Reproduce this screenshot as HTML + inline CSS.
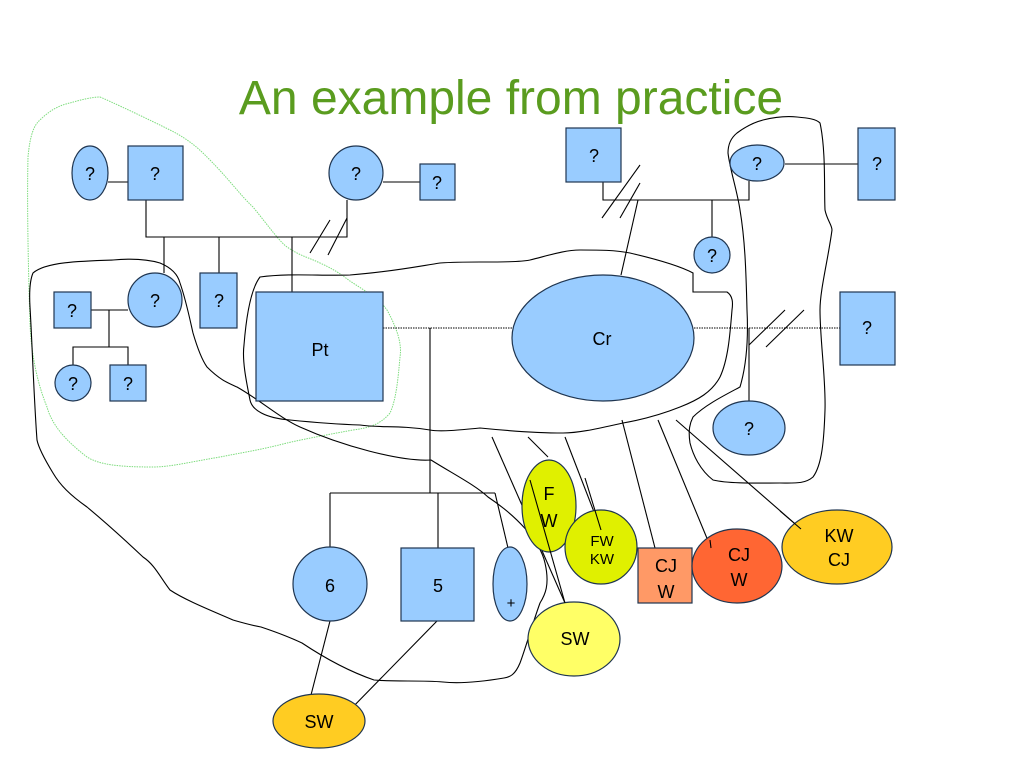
<!DOCTYPE html>
<html><head><meta charset="utf-8"><style>
html,body{margin:0;padding:0;background:#fff;}
svg{display:block;}
text{font-family:"Liberation Sans",sans-serif;}
</style></head><body>
<svg width="1023" height="767" viewBox="0 0 1023 767" xmlns="http://www.w3.org/2000/svg">
<text x="511" y="114" font-size="48" fill="#5a9c1f" text-anchor="middle">An example from practice</text>

<!-- green dotted curve -->
<path d="M100,97 C112,102 150,120 170,130 C190,140 200,150 207,157 C230,180 240,195 253,207 C270,228 280,242 287,247 C300,256 310,258 320,263 C340,272 345,278 353,283 C370,294 380,300 387,310 C398,330 402,345 400,357 C398,380 396,400 390,413 C380,425 368,428 353,430 C320,436 300,440 287,443 C260,450 240,453 220,457 C190,462 170,467 153,467 C120,467 100,465 87,457 C65,440 52,425 47,407 C36,380 31,350 30,323 C28,260 27,200 28,157 C30,135 34,125 40,120 C50,110 60,105 70,103 C80,100 92,97 100,97 Z" fill="none" stroke="#7ddc7d" stroke-width="1" stroke-dasharray="1.5,1"/>

<g fill="none" stroke="#000" stroke-width="1.1">
<!-- big left curve -->
<path d="M113,260 C135,258 150,260 160,263 C172,268 178,275 180,283 C186,300 190,320 193,333 C198,350 202,360 207,367 C220,380 228,383 237,387 C260,400 280,418 300,427 C340,445 400,462 431,460 C455,475 475,485 488,497 C515,515 540,540 545,563 C550,585 545,595 540,603 C532,625 525,650 520,663 C515,675 510,677 504,678 C480,682 460,684 443,682 C420,680 395,682 374,680 C345,670 320,655 302,643 C285,635 270,630 261,627 C250,625 240,622 233,620 C210,610 185,600 170,590 C160,577 155,565 143,557 C125,540 105,522 87,507 C70,495 60,485 53,473 C42,455 38,445 37,440 C34,400 32,340 30,307 C29,290 30,280 33,273 C45,262 80,261 113,260 Z"/>
<!-- Pt/Cr curve -->
<path d="M260,277 C290,273 320,276 350,275 C390,272 420,266 440,263 C455,262 470,262 480,262 C500,262 520,262 530,260 C550,255 565,250 580,250 C600,250 615,250 630,253 C660,260 680,266 693,273 L693,292 L727,292 C733,296 733,303 732,310 C730,335 728,360 720,377 C712,392 698,400 680,407 C660,415 640,420 623,423 C600,428 580,433 563,433 C530,433 500,430 480,428 C460,430 440,432 430,430 C400,425 380,428 360,425 C330,424 310,422 290,420 C265,418 252,410 250,400 C246,380 242,360 244,345 C246,320 250,290 260,277 Z"/>
<!-- right loop -->
<path d="M763,120 C775,117 787,116 797,117 C808,118 816,119 820,123 C826,150 824,190 825,210 C827,220 832,225 832,230 C828,260 820,290 820,310 C820,340 826,380 825,410 C824,440 822,465 813,477 C805,484 795,483 780,483 C760,483 730,484 713,480 C700,470 693,455 690,443 C688,430 690,423 693,417 C705,405 725,395 740,387 C748,360 748,330 747,310 C746,270 745,240 740,210 C737,190 730,170 728,153 C728,143 732,137 737,133 C745,127 755,122 763,120 Z"/>
</g>

<g stroke="#000" stroke-width="1.1" fill="none">
<!-- top-left couple -->
<line x1="108" y1="182" x2="128" y2="182"/>
<line x1="383" y1="182" x2="420" y2="182"/>
<polyline points="146,200 146,237 347,237 347,200"/>
<line x1="310" y1="253" x2="330" y2="220"/>
<line x1="328" y1="255" x2="347" y2="218"/>
<line x1="164" y1="237" x2="164" y2="273"/>
<line x1="219" y1="237" x2="219" y2="273"/>
<line x1="292" y1="237" x2="292" y2="292"/>
<!-- left family -->
<line x1="91" y1="310" x2="128" y2="310"/>
<line x1="109" y1="310" x2="109" y2="347"/>
<polyline points="73,365 73,347 128,347 128,365"/>
<!-- children -->
<line x1="430" y1="328" x2="430" y2="493"/>
<line x1="330" y1="493" x2="495" y2="493"/>
<line x1="330" y1="493" x2="330" y2="548"/>
<line x1="438" y1="493" x2="438" y2="548"/>
<line x1="495" y1="493" x2="508" y2="548"/>
<line x1="330" y1="621" x2="311" y2="695"/>
<line x1="437" y1="621" x2="347" y2="713"/>
<!-- top right -->
<polyline points="603,182 603,200 749,200 749,181"/>
<line x1="712" y1="200" x2="712" y2="237"/>
<line x1="602" y1="218" x2="640" y2="165"/>
<line x1="620" y1="218" x2="640" y2="183"/>
<line x1="638" y1="200" x2="621" y2="275"/>
<line x1="785" y1="164" x2="858" y2="164"/>
<line x1="749" y1="328" x2="749" y2="402"/>
<line x1="749" y1="345" x2="785" y2="310"/>
<line x1="766" y1="347" x2="804" y2="310"/>
<!-- dotted -->
<line x1="383" y1="328" x2="512" y2="328" stroke-dasharray="1.5,1" stroke-width="1"/>
<line x1="694" y1="328" x2="840" y2="328" stroke-dasharray="1.5,1" stroke-width="1"/>
<!-- lines to coloured nodes -->
<line x1="492" y1="437" x2="565" y2="603"/>
<line x1="528" y1="437" x2="548" y2="457"/>
<line x1="565" y1="437" x2="601" y2="530"/>
<line x1="622" y1="420" x2="655" y2="548"/>
<line x1="658" y1="420" x2="711" y2="548"/>
<line x1="676" y1="420" x2="801" y2="529"/>
</g>

<g fill="#99ccff" stroke="#1f3550" stroke-width="1.2">
<ellipse cx="90" cy="173" rx="18" ry="27"/>
<rect x="128" y="146" width="55" height="54"/>
<circle cx="356" cy="173" r="27"/>
<rect x="420" y="164" width="35" height="36"/>
<circle cx="155" cy="300" r="27"/>
<rect x="200" y="273" width="37" height="55"/>
<rect x="54" y="292" width="37" height="36"/>
<circle cx="73" cy="383" r="18"/>
<rect x="110" y="365" width="36" height="36"/>
<rect x="256" y="292" width="127" height="109"/>
<ellipse cx="603" cy="338" rx="91" ry="63"/>
<rect x="566" y="128" width="55" height="54"/>
<ellipse cx="757" cy="163" rx="27" ry="18"/>
<rect x="858" y="128" width="37" height="72"/>
<circle cx="712" cy="255" r="18"/>
<rect x="840" y="292" width="55" height="73"/>
<ellipse cx="749" cy="428" rx="36" ry="27"/>
<ellipse cx="330" cy="584" rx="37" ry="37"/>
<rect x="401" y="548" width="73" height="73"/>
<ellipse cx="510" cy="584" rx="17" ry="37"/>
</g>
<g stroke="#1f3550" stroke-width="1.2">
<ellipse cx="549" cy="506" rx="27" ry="46" fill="#e0f000"/>
<ellipse cx="601" cy="547" rx="36" ry="37" fill="#e0f000"/>
<rect x="638" y="548" width="54" height="55" fill="#ff9966"/>
<ellipse cx="737" cy="566" rx="45" ry="37" fill="#ff6633"/>
<ellipse cx="837" cy="547" rx="55" ry="37" fill="#ffcc22"/>
<ellipse cx="574" cy="639" rx="46" ry="37" fill="#ffff66"/>
<ellipse cx="319" cy="721" rx="46" ry="27" fill="#ffcc22"/>
</g>
<!-- lines crossing coloured nodes drawn on top -->
<g stroke="#000" stroke-width="1.1">
<line x1="530" y1="480" x2="565" y2="603"/>
<line x1="585" y1="478" x2="601" y2="530"/>
<line x1="710" y1="540" x2="711" y2="548"/>
<line x1="780" y1="511" x2="801" y2="529"/>
</g>

<g font-size="18" fill="#000" text-anchor="middle">
<text x="90" y="180">?</text>
<text x="155" y="180">?</text>
<text x="356" y="180">?</text>
<text x="437" y="189">?</text>
<text x="155" y="307">?</text>
<text x="219" y="307">?</text>
<text x="72" y="317">?</text>
<text x="73" y="390">?</text>
<text x="128" y="390">?</text>
<text x="594" y="162">?</text>
<text x="757" y="170">?</text>
<text x="877" y="170">?</text>
<text x="712" y="262">?</text>
<text x="867" y="334">?</text>
<text x="749" y="435">?</text>
<text x="320" y="356">Pt</text>
<text x="602" y="345">Cr</text>
<text x="330" y="592">6</text>
<text x="438" y="592">5</text>
<text x="511" y="608" font-size="15">+</text>
<text x="549" y="500">F</text>
<text x="549" y="527">W</text>
<text x="602" y="546" font-size="15">FW</text>
<text x="602" y="564" font-size="15">KW</text>
<text x="666" y="572">CJ</text>
<text x="666" y="598">W</text>
<text x="739" y="561">CJ</text>
<text x="739" y="586">W</text>
<text x="839" y="542">KW</text>
<text x="839" y="566">CJ</text>
<text x="575" y="645">SW</text>
<text x="319" y="728">SW</text>
</g>
</svg>
</body></html>
